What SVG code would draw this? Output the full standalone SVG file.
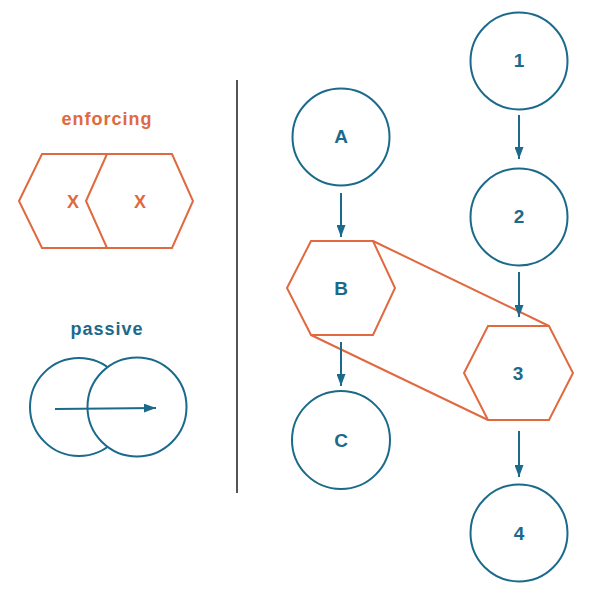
<svg xmlns="http://www.w3.org/2000/svg" width="602" height="595" viewBox="0 0 602 595">
<style>
.bg{fill:#ffffff}
.circ{fill:#ffffff;stroke:#1b6a8c;stroke-width:2}
.hex{fill:#ffffff;stroke:#e0693f;stroke-width:2;stroke-linejoin:miter}
.band{fill:none;stroke:#e0693f;stroke-width:2}
.edge{stroke:#1b6a8c;stroke-width:2;fill:none}
.lbl{font-family:"Liberation Sans",Arial,sans-serif;font-weight:bold;font-size:19px;fill:#1b6a8c;text-anchor:middle}
.olbl{font-family:"Liberation Sans",Arial,sans-serif;font-weight:bold;font-size:18px;fill:#e0693f;text-anchor:middle}
.title{font-family:"Liberation Sans",Arial,sans-serif;font-weight:bold;font-size:18px;text-anchor:middle;letter-spacing:1px}
.div{stroke:#555555;stroke-width:2}
</style>
<defs>
<marker id="arr" viewBox="0 0 12 9" refX="12" refY="4.5" markerWidth="6" markerHeight="4.5" orient="auto" markerUnits="strokeWidth">
<path d="M0,0 L12,4.5 L0,9 z" fill="#1b6a8c"/>
</marker>
</defs>
<rect class="bg" x="0" y="0" width="602" height="595"/>

<g id="legend-enforcing">
<text class="title" x="107" y="125" fill="#e0693f">enforcing</text>
<polygon class="hex" points="19,201 42,154 106,154 127,201 106,248 42,248"/>
<polygon class="hex" points="86,201 107,154 172,154 193,201 172,248 107,248"/>
<text class="olbl" x="73" y="208">X</text>
<text class="olbl" x="140" y="208">X</text>
</g>

<g id="legend-passive">
<text class="title" x="107" y="335" fill="#1b6a8c">passive</text>
<circle class="circ" cx="79" cy="407" r="49"/>
<circle class="circ" cx="137" cy="407" r="49.5"/>
<line class="edge" x1="55" y1="409" x2="156" y2="408" marker-end="url(#arr)"/>
</g>

<line id="divider" class="div" x1="237" y1="80" x2="237" y2="493"/>

<g id="band">
<line class="band" x1="373" y1="241" x2="549" y2="326"/>
<line class="band" x1="311" y1="335" x2="488" y2="420"/>
</g>

<g id="connectors">
<line class="edge" x1="341" y1="193" x2="341" y2="237" marker-end="url(#arr)"/>
<line class="edge" x1="341" y1="342" x2="341" y2="386" marker-end="url(#arr)"/>
<line class="edge" x1="519" y1="115" x2="519" y2="159" marker-end="url(#arr)"/>
<line class="edge" x1="519" y1="272" x2="519" y2="317" marker-end="url(#arr)"/>
<line class="edge" x1="519" y1="431" x2="519" y2="477" marker-end="url(#arr)"/>
</g>

<g id="node-A">
<circle class="circ" cx="341" cy="137" r="48.5"/>
<text class="lbl" x="341" y="143">A</text>
</g>
<g id="node-B">
<polygon class="hex" points="287,288 311,241 373,241 395,288 373,335 311,335"/>
<text class="lbl" x="341" y="295">B</text>
</g>
<g id="node-C">
<circle class="circ" cx="341" cy="440" r="49"/>
<text class="lbl" x="341" y="447">C</text>
</g>
<g id="node-1">
<circle class="circ" cx="519" cy="61" r="48.5"/>
<text class="lbl" x="519" y="67">1</text>
</g>
<g id="node-2">
<circle class="circ" cx="519" cy="217" r="48.5"/>
<text class="lbl" x="519" y="223">2</text>
</g>
<g id="node-3">
<polygon class="hex" points="464,373 488,326 549,326 573,373 549,420 488,420"/>
<text class="lbl" x="518" y="380">3</text>
</g>
<g id="node-4">
<circle class="circ" cx="519" cy="533" r="48.5"/>
<text class="lbl" x="519" y="540">4</text>
</g>
</svg>
